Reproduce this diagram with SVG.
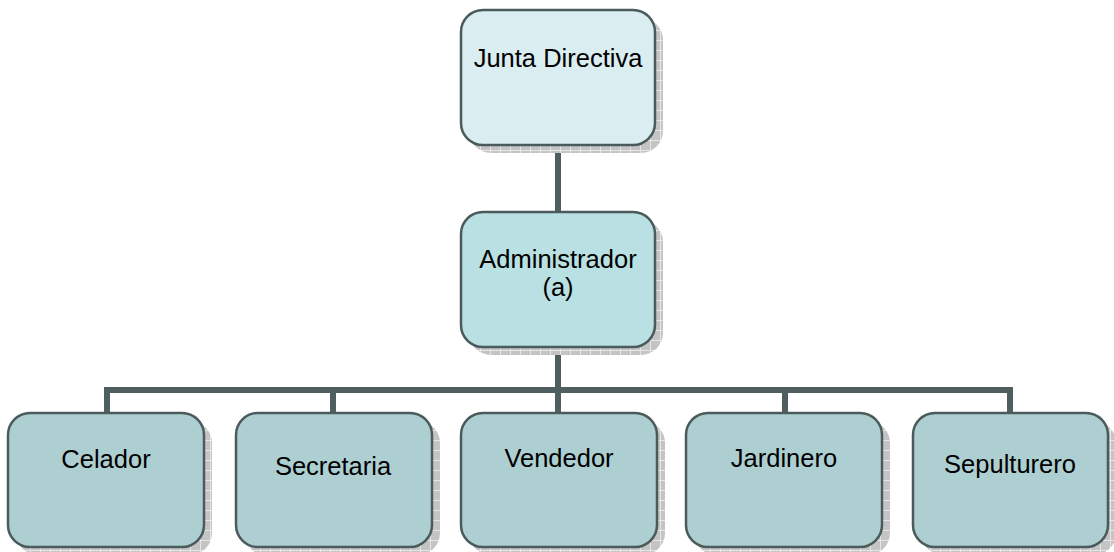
<svg xmlns="http://www.w3.org/2000/svg" width="1114" height="552" viewBox="0 0 1114 552">
<defs>
<pattern id="hatch" width="10" height="10" patternUnits="userSpaceOnUse">
<rect width="10" height="10" fill="#c4c4c4"/>
<path d="M0 0.5H10M0.5 0V10" stroke="#e6e6e6" stroke-width="1"/>
</pattern>
</defs>
<style>
.box{stroke:#4b5b5b;stroke-width:2.5}
.shadow{fill:url(#hatch)}
.t{font-family:"Liberation Sans",Arial,sans-serif;font-size:25.5px;fill:#000;text-anchor:middle}
.c{fill:none;stroke:#4f5e5e;stroke-width:6}
</style>
<rect width="1114" height="552" fill="#fff"/>
<g id="connectors">
<path class="c" d="M558 145V213"/>
<path class="c" d="M558 347V413"/>
<path class="c" d="M107 413V390H1010V413"/>
<path class="c" d="M333 390V413"/>
<path class="c" d="M785 390V413"/>
</g>
<g id="n-junta">
<rect class="shadow" x="469" y="18" width="194" height="135" rx="22"/>
<rect class="box" x="461" y="10" width="194" height="135" rx="22" fill="#daedf0"/>
<text class="t" x="558" y="67">Junta Directiva</text>
</g>
<g id="n-admin">
<rect class="shadow" x="469" y="220" width="194" height="135" rx="22"/>
<rect class="box" x="461" y="212" width="194" height="135" rx="22" fill="#b9e0e3"/>
<text class="t" x="558" y="268">Administrador</text>
<text class="t" x="558" y="296">(a)</text>
</g>
<g id="n-celador">
<rect class="shadow" x="16" y="421" width="196" height="134" rx="22"/>
<rect class="box" x="8" y="413" width="196" height="134" rx="22" fill="#adcfd1"/>
<text class="t" x="106" y="468">Celador</text>
</g>
<g id="n-secretaria">
<rect class="shadow" x="244" y="421" width="196" height="134" rx="22"/>
<rect class="box" x="236" y="413" width="196" height="134" rx="22" fill="#adcfd1"/>
<text class="t" x="333" y="475">Secretaria</text>
</g>
<g id="n-vendedor">
<rect class="shadow" x="469" y="421" width="196" height="134" rx="22"/>
<rect class="box" x="461" y="413" width="196" height="134" rx="22" fill="#adcfd1"/>
<text class="t" x="559" y="467">Vendedor</text>
</g>
<g id="n-jardinero">
<rect class="shadow" x="694" y="421" width="196" height="134" rx="22"/>
<rect class="box" x="686" y="413" width="196" height="134" rx="22" fill="#adcfd1"/>
<text class="t" x="784" y="467">Jardinero</text>
</g>
<g id="n-sepulturero">
<rect class="shadow" x="921" y="421" width="195" height="134" rx="22"/>
<rect class="box" x="913" y="413" width="195" height="134" rx="22" fill="#adcfd1"/>
<text class="t" x="1010" y="473">Sepulturero</text>
</g>
</svg>
